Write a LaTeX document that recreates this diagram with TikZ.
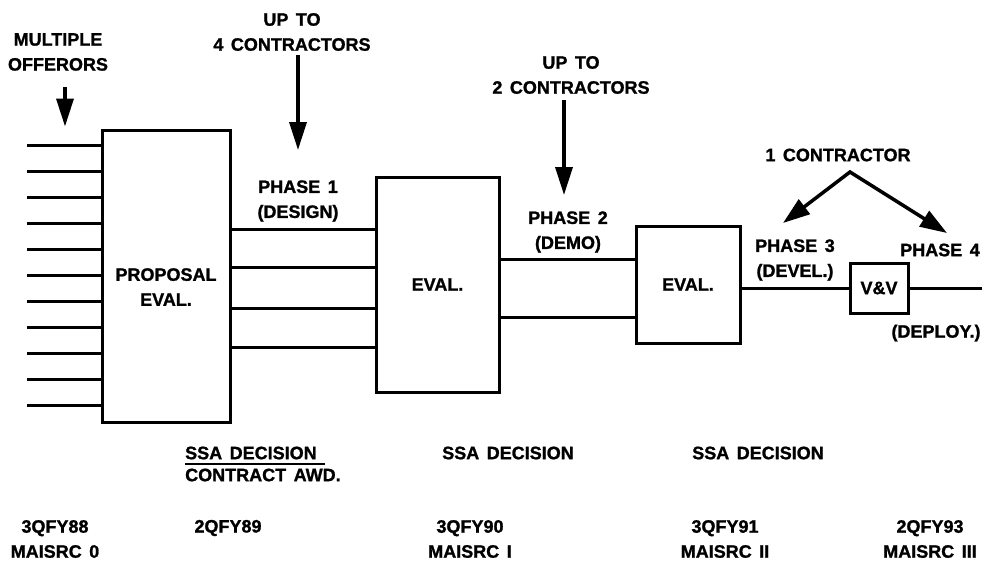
\documentclass[tikz,border=0pt]{standalone}
\usepackage{fontspec}
\setmainfont{Liberation Sans}[WordSpace=1.5,BoldFeatures={FakeBold=1.2}]
\usetikzlibrary{positioning,arrows.meta}
\newcommand{\dgmfont}{\fontsize{18}{25}\selectfont\bfseries}
\tikzset{
  blk/.style={rectangle,draw,line width=3pt,inner sep=0pt,font=\dgmfont},
  lbl/.style={font=\dgmfont,align=center,inner sep=0pt},
  wire/.style={line width=3pt},
  pointer/.style={-{Triangle[length=28pt,width=17pt]},line width=3.5pt},
  twoway/.style={{Triangle[length=27pt,width=18pt]}-{Triangle[length=27pt,width=18pt]},line width=3.5pt,line join=miter}
}

\begin{document}
\begin{tikzpicture}[x=1pt,y=-1pt]
\useasboundingbox (0,0) rectangle (987,563);
% evaluation boxes
\node[blk,minimum width=128pt,minimum height=292pt] (prop) at (166,276) {};
\node[lbl] (proptxt) at (166,287) {PROPOSAL\\EVAL.};
\node[blk,minimum width=123pt,minimum height=215pt] (eval1) at (437.5,284.5) {EVAL.};
\node[blk,minimum width=104pt,minimum height=117pt] (eval2) at (688,284.5) {EVAL.};
\node[blk,minimum width=58pt,minimum height=50pt] (vv) at (879,288) {V\&V};
% offerors
\node[lbl] (offer) at (58,52) {MULTIPLE\\OFFERORS};
\coordinate (offtail) at (65,87);
\draw[pointer] (offtail) -- ([yshift=2pt]offtail |- prop.north);
\foreach \i in {0,...,10}{
  \coordinate (in\i) at (27,145+26*\i);
  \draw[wire] (in\i) -- (in\i -| prop.west);
}
% phase 1
\node[lbl] (up4) at (292,32) {UP TO\\4 CONTRACTORS};
\coordinate (up4tail) at (298,55); \coordinate (up4tip) at (298,150);
\draw[pointer] (up4tail) -- (up4tip);
\node[lbl] (ph1) at (298,201) {PHASE 1\\(DESIGN)};
\foreach \y [count=\k] in {229,267,308,347}{
  \coordinate (pa\k) at (300,\y);
  \draw[wire] (pa\k -| prop.east) -- (pa\k -| eval1.west);
}
% phase 2
\node[lbl] (up2) at (571,75) {UP TO\\2 CONTRACTORS};
\coordinate (up2tail) at (564,100); \coordinate (up2tip) at (564,195);
\draw[pointer] (up2tail) -- (up2tip);
\node[lbl] (ph2) at (568,232) {PHASE 2\\(DEMO)};
\foreach \y [count=\k] in {259,317}{
  \coordinate (pb\k) at (560,\y);
  \draw[wire] (pb\k -| eval1.east) -- (pb\k -| eval2.west);
}
% phases 3 and 4
\draw[wire] (eval2.east |- vv.west) -- (vv.west);
\coordinate (outend) at (982,288);
\draw[wire] (vv.east) -- (outend);
\node[lbl] (one) at (838,155) {1 CONTRACTOR};
\coordinate (apex) at (850,172);
\coordinate (tip3) at (783,223); \coordinate (tip4) at (947,233);
\draw[twoway] (tip3) -- (apex) -- (tip4);
\node[lbl] (ph3) at (795,260) {PHASE 3\\(DEVEL.)};
\node[lbl] (ph4) at (940,250) {PHASE 4};
\node[lbl] (deploy) at (936,333) {(DEPLOY.)};
% decisions
\node[lbl,anchor=west] (ssa1) at (185,453) {SSA DECISION};
\node[lbl,anchor=west] (awd) at (185,475) {CONTRACT AWD.};
\draw[line width=2pt] ([yshift=-4pt]ssa1.south west) -- ([xshift=8pt,yshift=-4pt]ssa1.south east);
\node[lbl] (ssa2) at (508,453) {SSA DECISION};
\node[lbl] (ssa3) at (758,453) {SSA DECISION};
% milestones
\node[lbl] (q88) at (55,539) {3QFY88\\MAISRC 0};
\node[lbl] (q89) at (228,528) {2QFY89};
\node[lbl] (q90) at (470,539) {3QFY90\\MAISRC I};
\node[lbl] (q91) at (725,539) {3QFY91\\MAISRC II};
\node[lbl] (q93) at (930,539) {2QFY93\\MAISRC III};
\end{tikzpicture}
\end{document}
